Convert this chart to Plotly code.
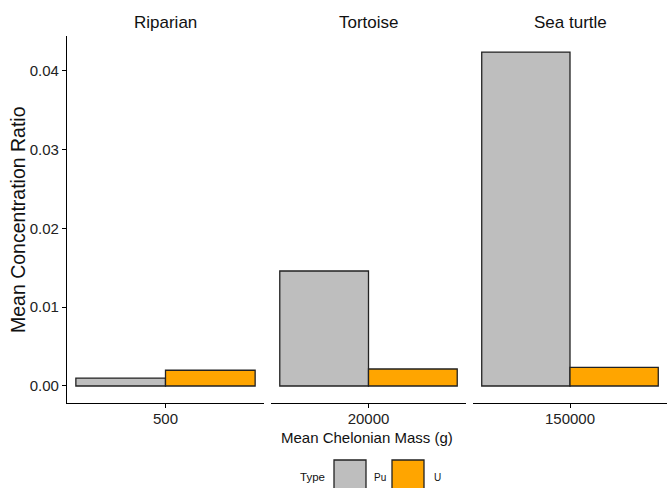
import plotly.graph_objects as go

# Data: mean concentration ratio by chelonian group and radionuclide type
groups = ["Riparian", "Tortoise", "Sea turtle"]
masses = ["500", "20000", "150000"]
pu_values = [0.00100, 0.0146, 0.0424]
u_values = [0.00200, 0.00216, 0.00237]
types = ["Pu", "U"]
colors = {"Pu": "#BEBEBE", "U": "#FFA500"}

FONT = "Liberation Sans, Arial, sans-serif"
W, H = 667, 488
L, R, T, B = 67, 0, 36, 85
plot_w = W - L - R
plot_h = H - T - B

def px_x(x):
    return (x - L) / plot_w

def px_y(y):
    return (H - B - y) / plot_h

domains = [(px_x(67), px_x(264)), (px_x(271), px_x(466)), (px_x(473), px_x(667))]
y_range = [-0.00216, 0.04444]

fig = go.Figure()
for i, (grp, mass) in enumerate(zip(groups, masses)):
    xa = "x" if i == 0 else f"x{i+1}"
    ya = "y" if i == 0 else f"y{i+1}"
    for t, vals in zip(types, [pu_values, u_values]):
        fig.add_trace(go.Bar(
            x=[mass], y=[vals[i]], name=t, xaxis=xa, yaxis=ya,
            marker=dict(color=colors[t], line=dict(color="#222222", width=1.3)),
            showlegend=False, offsetgroup=t,
        ))

layout = dict(
    width=W, height=H,
    margin=dict(l=L, r=R, t=T, b=B),
    paper_bgcolor="white", plot_bgcolor="white",
    barmode="group", bargap=0.09, bargroupgap=0,
    font=dict(family=FONT, size=15, color="#222222"),
    showlegend=False,
)

for i in range(3):
    xkey = "xaxis" if i == 0 else f"xaxis{i+1}"
    ykey = "yaxis" if i == 0 else f"yaxis{i+1}"
    anchor_y = "y" if i == 0 else f"y{i+1}"
    anchor_x = "x" if i == 0 else f"x{i+1}"
    layout[xkey] = dict(
        domain=list(domains[i]), anchor=anchor_y, type="category",
        range=[-0.5, 0.5], showline=True, linecolor="black", linewidth=1.2,
        ticks="outside", ticklen=4, tickcolor="black", tickwidth=1.1,
        ticklabelstandoff=-2,
        tickfont=dict(size=15, color="#222222", family=FONT),
        showgrid=False, zeroline=False, fixedrange=True,
    )
    ycfg = dict(
        domain=[0, 1], anchor=anchor_x, range=y_range,
        showgrid=False, zeroline=False, fixedrange=True,
    )
    if i == 0:
        ycfg.update(
            showline=True, linecolor="black", linewidth=1.2,
            ticks="outside", ticklen=4, tickcolor="black", tickwidth=1.1,
            tickvals=[0, 0.01, 0.02, 0.03, 0.04], tickformat=".2f",
            tickfont=dict(size=15, color="#222222", family=FONT),
        )
    else:
        ycfg.update(showline=False, showticklabels=False, ticks="", matches="y")
    layout[ykey] = ycfg

annotations = []
# facet strip titles
for i, grp in enumerate(groups):
    annotations.append(dict(
        text=grp, xref="paper", yref="paper",
        x=(domains[i][0] + domains[i][1]) / 2, y=px_y(22),
        xanchor="center", yanchor="middle", showarrow=False,
        font=dict(size=17, color="#111111", family=FONT),
    ))
# axis titles
annotations.append(dict(
    text="Mean Chelonian Mass (g)", xref="paper", yref="paper",
    x=(domains[0][0] + domains[2][1]) / 2, y=px_y(437),
    xanchor="center", yanchor="middle", showarrow=False,
    font=dict(size=15, color="#111111", family=FONT),
))
annotations.append(dict(
    text="Mean Concentration Ratio", xref="paper", yref="paper",
    x=px_x(18), y=px_y(220), textangle=-90,
    xanchor="center", yanchor="middle", showarrow=False,
    font=dict(size=19.5, color="#111111", family=FONT),
))

# legend drawn at the bottom
shapes = []
annotations.append(dict(
    text="Type", xref="paper", yref="paper", x=px_x(312), y=px_y(477),
    xanchor="center", yanchor="middle", showarrow=False,
    font=dict(size=11.5, color="#111111", family=FONT),
))
legend_boxes = [("Pu", 334, 366, 372), ("U", 392, 424, 432)]
for t, x0, x1, xt in legend_boxes:
    shapes.append(dict(
        type="rect", xref="paper", yref="paper",
        x0=px_x(x0), x1=px_x(x1), y0=px_y(491), y1=px_y(460),
        fillcolor=colors[t], line=dict(color="#222222", width=1.3),
    ))
    annotations.append(dict(
        text=t, xref="paper", yref="paper", x=px_x(xt), y=px_y(477),
        xanchor="left", yanchor="middle", showarrow=False,
        font=dict(size=10, color="#111111", family=FONT),
    ))

layout["annotations"] = annotations
layout["shapes"] = shapes
fig.update_layout(**layout)
fig.write_html("out.html")
